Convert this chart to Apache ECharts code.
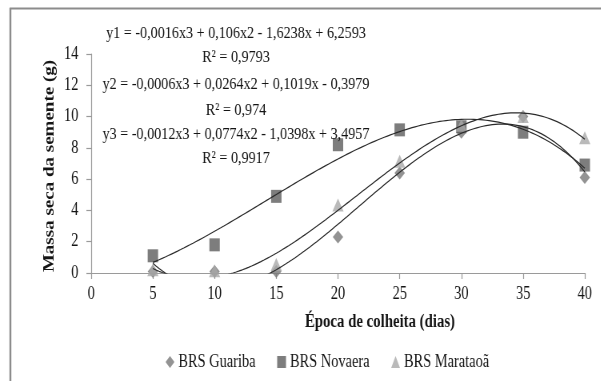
<!DOCTYPE html>
<html>
<head>
<meta charset="utf-8">
<script src="https://cdn.jsdelivr.net/npm/echarts@6/dist/echarts.min.js"></script>
<style>
  html, body { margin: 0; padding: 0; overflow: hidden; background: #ffffff; }
  /* chart is laid out wider and condensed horizontally, giving narrow serif type */
  #chart { width: 751px; height: 381px; transform: scaleX(0.8); transform-origin: 0 0; }
</style>
</head>
<body>
<div id="chart"></div>
<script>
// Harvest time (days) and seed dry mass (g) per cultivar
const days = [5, 10, 15, 20, 25, 30, 35, 40];
const guariba  = [0.1, 0.1, 0.1, 2.3, 6.4, 9.0, 10.0, 6.1];
const novaera  = [1.1, 1.8, 4.9, 8.2, 9.15, 9.35, 9.0, 6.9];
const marataoa = [0.2, 0.15, 0.55, 4.35, 7.15, 9.45, 10.0, 8.65];

const seriesNames = ['BRS Guariba', 'BRS Novaera', 'BRS Marataoã'];
const xTicks = { min: 0, max: 40, step: 5 };
const yTicks = { min: 0, max: 14, step: 2 };

// Trend equations printed on the chart
const equations = [
  'y1 = -0,0016x3 + 0,106x2 - 1,6238x + 6,2593',
  'R² = 0,9793',
  'y2 = -0,0006x3 + 0,0264x2 + 0,1019x - 0,3979',
  'R² = 0,974',
  'y3 = -0,0012x3 + 0,0774x2 - 1,0398x + 3,4957',
  'R² = 0,9917'
];

// Least-squares polynomial (degree 3) through the observed points
function cubicFit(xs, ys) {
  const n = 4;
  const A = [];
  for (let i = 0; i < n; i++) A.push(new Array(n + 1).fill(0));
  for (let k = 0; k < xs.length; k++) {
    for (let i = 0; i < n; i++) {
      for (let j = 0; j < n; j++) A[i][j] += Math.pow(xs[k], i + j);
      A[i][n] += ys[k] * Math.pow(xs[k], i);
    }
  }
  for (let c = 0; c < n; c++) {
    let p = c;
    for (let r = c + 1; r < n; r++) if (Math.abs(A[r][c]) > Math.abs(A[p][c])) p = r;
    [A[c], A[p]] = [A[p], A[c]];
    for (let r = 0; r < n; r++) {
      if (r === c) continue;
      const f = A[r][c] / A[c][c];
      for (let j = c; j <= n; j++) A[r][j] -= f * A[c][j];
    }
  }
  return A.map((row, i) => row[n] / row[i]);
}

function trendPoints(ys) {
  const c = cubicFit(days, ys);
  const pts = [];
  for (let x = days[0]; x <= days[days.length - 1] + 1e-9; x += 0.25) {
    pts.push([x, c[0] + c[1] * x + c[2] * x * x + c[3] * x * x * x]);
  }
  return pts;
}

const pairs = ys => days.map((d, i) => [d, ys[i]]);

const serif = '"Liberation Serif", "Times New Roman", serif';
const textColor = '#141414';
const axisColor = '#9a9a9a';

const chart = echarts.init(document.getElementById('chart'));

const eqY = [33, 57, 84, 110, 134, 158];
const graphics = equations.map((t, i) => ({
  type: 'text',
  x: 295, y: eqY[i],
  z: 10,
  style: { text: t, font: '17.7px ' + serif, fill: textColor, textAlign: 'center', textVerticalAlign: 'middle' }
}));
graphics.push(
  { type: 'line', shape: { x1: 12, y1: 8.5, x2: 751, y2: 8.5 }, style: { stroke: '#8c8c8c', lineWidth: 2 } },
  { type: 'line', shape: { x1: 13, y1: 8, x2: 13, y2: 381 }, style: { stroke: '#8c8c8c', lineWidth: 2.4 } },
  {
    type: 'text', x: 475, y: 322,
    style: { text: 'Época de colheita (dias)', font: 'bold 18.5px ' + serif, fill: textColor, textAlign: 'center', textVerticalAlign: 'middle' }
  },
  {
    type: 'text', x: 62, y: 166, rotation: Math.PI / 2,
    style: { text: 'Massa seca da semente (g)', font: 'bold 19px ' + serif, fill: textColor, textAlign: 'center', textVerticalAlign: 'middle' }
  }
);

const markerStyles = [
  { symbol: 'diamond', size: 13, color: '#787878' },
  { symbol: 'rect', size: 13, color: '#5c5c5c' },
  { symbol: 'triangle', size: [14, 13], color: '#a9a9a9' }
];
const values = [guariba, novaera, marataoa];

const series = [];
values.forEach((ys, i) => {
  series.push({
    name: seriesNames[i],
    type: 'scatter',
    data: pairs(ys),
    symbol: markerStyles[i].symbol,
    symbolSize: markerStyles[i].size,
    itemStyle: { color: markerStyles[i].color },
    z: 2
  });
});
values.forEach((ys, i) => {
  series.push({
    name: seriesNames[i] + ' tendência',
    type: 'line',
    data: trendPoints(ys),
    showSymbol: false,
    symbol: 'none',
    clip: true,
    lineStyle: { color: '#2a2a2a', width: 1.2 },
    silent: true,
    z: 3
  });
});

chart.setOption({
  animation: false,
  backgroundColor: '#ffffff',
  grid: { left: 114, right: 20, top: 54, bottom: 108, outerBoundsMode: 'none' },
  xAxis: {
    type: 'value',
    min: xTicks.min, max: xTicks.max, interval: xTicks.step,
    axisLine: { show: true, lineStyle: { color: axisColor, width: 1.2 } },
    axisTick: { show: true, inside: false, length: 6, lineStyle: { color: axisColor, width: 1.2 } },
    axisLabel: { color: textColor, fontFamily: serif, fontSize: 18, margin: 12 },
    splitLine: { show: false }
  },
  yAxis: {
    type: 'value',
    min: yTicks.min, max: yTicks.max, interval: yTicks.step,
    axisLine: { show: true, lineStyle: { color: axisColor, width: 1.2 } },
    axisTick: { show: true, inside: false, length: 6, lineStyle: { color: axisColor, width: 1.2 } },
    axisLabel: { color: textColor, fontFamily: serif, fontSize: 18, margin: 16 },
    splitLine: { show: false }
  },
  legend: {
    left: 202, top: 348,
    itemGap: 27, itemWidth: 11, itemHeight: 12,
    textStyle: { color: textColor, fontFamily: serif, fontSize: 18 },
    data: [
      { name: seriesNames[0], icon: 'diamond' },
      { name: seriesNames[1], icon: 'rect' },
      { name: seriesNames[2], icon: 'triangle' }
    ]
  },
  graphic: graphics,
  series: series
});
</script>
</body>
</html>
